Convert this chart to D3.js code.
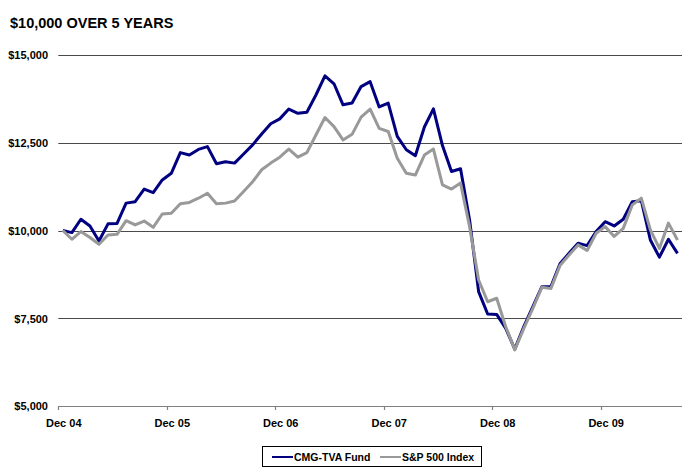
<!DOCTYPE html>
<html><head><meta charset="utf-8">
<script src="https://cdn.jsdelivr.net/npm/d3@7"></script>
<style>body{margin:0;background:#fff;} svg{display:block;font-family:"Liberation Sans",Arial,sans-serif;}</style>
</head><body><div id="chart"></div>
<script>
const title = "$10,000 OVER 5 YEARS";
const seriesNames = ["CMG-TVA Fund", "S&P 500 Index"];
const yTicks = [5000, 7500, 10000, 12500, 15000];
const xTickLabels = ["Dec 04", "Dec 05", "Dec 06", "Dec 07", "Dec 08", "Dec 09"];
// monthly categories Dec 2004 .. Aug 2010
const months = d3.timeMonth.range(new Date(2004, 11, 1), new Date(2010, 8, 1)).map(d3.timeFormat("%b %y"));
const cmg = [10000, 9940, 10320, 10130, 9700, 10190, 10200, 10780, 10820, 11180, 11080, 11440, 11630,
  12220, 12150, 12310, 12390, 11900, 11960, 11920, 12180, 12440, 12750, 13040, 13180, 13460, 13340, 13370,
  13860, 14405, 14180, 13580, 13630, 14100, 14240, 13520, 13630, 12680, 12300, 12130, 12950, 13465,
  12420, 11680, 11760, 10300, 8260, 7620, 7610, 7210, 6620, 7260, 7830, 8400, 8400, 9050,
  9350, 9640, 9570, 9970, 10250, 10130, 10320, 10820, 10850, 9730, 9240, 9750, 9350];
const sp = [10000, 9750, 9970, 9800, 9610, 9870, 9890, 10280, 10160, 10270, 10090, 10470, 10490,
  10760, 10800, 10920, 11060, 10760, 10780, 10840, 11110, 11390, 11730, 11920, 12090, 12320, 12090, 12220,
  12720, 13220, 12960, 12580, 12740, 13230, 13460, 12910, 12820, 12060, 11630, 11580, 12150, 12320,
  11300, 11180, 11350, 10110, 8590, 7970, 8070, 7260, 6600, 7210, 7780, 8380, 8350, 9000,
  9300, 9590, 9430, 9920, 10110, 9830, 10060, 10730, 10920, 10020, 9490, 10210, 9730];

const W = 690, H = 470;
const svg = d3.select("#chart").append("svg").attr("width", W).attr("height", H);

const x = d3.scaleBand().domain(months).range([58.3, 682]).paddingInner(0).paddingOuter(0);
const y = d3.scaleLinear().domain([5000, 15000]).range([406, 55]);
const cx = m => x(m) + x.bandwidth() / 2;

svg.append("text").attr("x", 10).attr("y", 28).attr("font-size", 14.5).attr("font-weight", "bold")
  .attr("fill", "#000").text(title);

// gridlines
svg.append("g").selectAll("line").data(yTicks.filter(v => v > 5000)).join("line")
  .attr("x1", 58.3).attr("x2", 682).attr("y1", d => Math.round(y(d)) + 0.5).attr("y2", d => Math.round(y(d)) + 0.5)
  .attr("stroke", "#4a4a4a").attr("stroke-width", 1.2);

// y labels
const yAxis = d3.axisLeft(y).tickValues(yTicks).tickSize(0).tickPadding(0)
  .tickFormat(d => "$" + d3.format(",")(d));
const gy = svg.append("g").attr("transform", "translate(48,0)").call(yAxis);
gy.select(".domain").remove();
gy.selectAll("text").attr("font-size", 11).attr("font-weight", "bold").attr("fill", "#000")
  .attr("font-family", "Liberation Sans, Arial, sans-serif").attr("dy", "0.35em");

// x axis line
svg.append("line").attr("x1", 58.3).attr("x2", 682).attr("y1", 406.5).attr("y2", 406.5)
  .attr("stroke", "#808080").attr("stroke-width", 1.2);
const decMonths = months.filter(m => m.startsWith("Dec"));
svg.append("g").selectAll("line").data(decMonths).join("line")
  .attr("x1", d => Math.round(x(d)) + 0.5).attr("x2", d => Math.round(x(d)) + 0.5)
  .attr("y1", 406).attr("y2", 410).attr("stroke", "#808080").attr("stroke-width", 1.2);
svg.append("g").selectAll("text").data(decMonths).join("text")
  .attr("x", d => cx(d) + 1).attr("y", 427).attr("text-anchor", "middle")
  .attr("font-size", 11).attr("font-weight", "bold").attr("fill", "#000")
  .text((d, i) => xTickLabels[i]);

// lines
const line = d3.line().x((d, i) => cx(months[i])).y(d => y(d)).curve(d3.curveLinear);
svg.append("path").datum(cmg).attr("d", line).attr("fill", "none").attr("stroke", "#000080")
  .attr("stroke-width", 3).attr("stroke-linejoin", "round");
svg.append("path").datum(sp).attr("d", line).attr("fill", "none").attr("stroke", "#999999")
  .attr("stroke-width", 3).attr("stroke-linejoin", "round");

// legend
const lg = svg.append("g");
lg.append("rect").attr("x", 262.5).attr("y", 446.5).attr("width", 219).attr("height", 20)
  .attr("fill", "#fff").attr("stroke", "#000").attr("stroke-width", 1);
const colors = ["#000080", "#999999"];
const lx = [272, 380];
seriesNames.forEach((n, i) => {
  lg.append("line").attr("x1", lx[i]).attr("x2", lx[i] + 21).attr("y1", 457).attr("y2", 457)
    .attr("stroke", colors[i]).attr("stroke-width", 2);
  lg.append("text").attr("x", lx[i] + 22).attr("y", 461).attr("font-size", 10.5).attr("font-weight", "bold")
    .attr("fill", "#000").text(n);
});
</script></body></html>
